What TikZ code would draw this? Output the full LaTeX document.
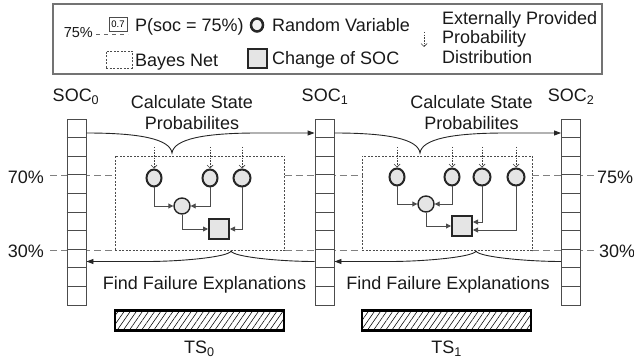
\documentclass[tikz,border=0pt]{standalone}
\usepackage{fontspec}
\setmainfont{Liberation Sans}
\usetikzlibrary{arrows.meta,shapes.geometric,patterns.meta,calc}
\begin{document}
\begin{tikzpicture}[x=1pt,y=-1pt,
  lbl/.style={inner sep=0pt, anchor=base, font=\fontsize{18}{21}\selectfont, text=black!90},
  lvl/.style={draw=black!50, line width=1pt, dash pattern=on 7pt off 4pt},
  bnbox/.style={draw=black!70, line width=0.8pt, dash pattern=on 2pt off 1.5pt},
  rv/.style={ellipse, draw=black!85, line width=2pt, fill=black!10, minimum width=15pt, minimum height=17pt, inner sep=0pt},
  rvm/.style={circle, draw=black!85, line width=1.4pt, fill=black!10, minimum size=16pt, inner sep=0pt},
  chg/.style={rectangle, draw=black!85, line width=2pt, fill=black!10, minimum size=19pt, inner sep=0pt},
  edge/.style={draw=black!70, line width=0.9pt, -{Triangle[length=5pt,width=5pt]}},
  ext/.style={draw=black!75, line width=0.7pt, dash pattern=on 1.5pt off 1.2pt, -{Straight Barb[length=3pt,width=6pt]}},
  flow/.style={draw=black!85, line width=0.9pt, -{Triangle[length=7pt,width=5pt]}},
  tsbar/.style={draw=black, line width=2.2pt, pattern={Lines[angle=55,distance=5pt,line width=0.55pt]}, minimum width=169pt, minimum height=20pt, inner sep=0pt},
  socbar/.style={draw=black!70, fill=white, line width=0.9pt, minimum width=19pt, minimum height=186pt, inner sep=0pt},
]
\useasboundingbox (0,0) rectangle (634,358);

% ---------- legend ----------
\node[draw=black!55, line width=1.2pt, minimum width=549pt, minimum height=70pt, inner sep=0pt] (legend) at (327.5,39) {};
\node[inner sep=0pt, anchor=base east, font=\fontsize{14.5}{16}\selectfont, text=black!90] (l75) at (93,38) {75\%};
\draw[draw=black!60, line width=0.8pt, dash pattern=on 4pt off 4pt] (96,34.5) -- (128,34.5);
\node[draw=black!70, fill=white, line width=0.8pt, minimum width=18pt, minimum height=14pt, inner sep=0pt, font=\fontsize{9.5}{10}\selectfont] (lcell) at (118,24) {0.7};
\node[lbl, anchor=base west] (lp) at (135,31.5) {P(soc = 75\%)};
\node[rv, fill=black!5, line width=2.5pt, minimum width=12pt, minimum height=13pt] (lrv) at (257,25) {};
\node[lbl, anchor=base west] (lrvt) at (272,31.5) {Random Variable};
\node[bnbox, minimum width=26pt, minimum height=17pt, inner sep=0pt] (lbn) at (119,59.5) {};
\node[lbl, anchor=base west] (lbnt) at (135,66.5) {Bayes Net};
\node[chg, line width=2.5pt] (lchg) at (257.5,58.5) {};
\node[lbl, anchor=base west] (lchgt) at (272,65) {Change of SOC};
\coordinate (lx1) at (424,32);
\coordinate (lx2) at (424,47);
\draw[ext] (lx1) -- (lx2);
\node[lbl, anchor=base west] (le1) at (442,24.5) {Externally Provided};
\node[lbl, anchor=base west] (le2) at (442,43.5) {Probability};
\node[lbl, anchor=base west] (le3) at (442,63.5) {Distribution};

% ---------- level lines ----------
\node[lbl, anchor=base east] (p70) at (44,183.5) {70\%};
\node[lbl, anchor=base east] (p30) at (44,257) {30\%};
\node[lbl, anchor=base west] (p75r) at (597,183) {75\%};
\node[lbl, anchor=base west] (p30r) at (599,257) {30\%};
\draw[lvl] (50,176) -- (115,176);
\draw[lvl] (284.5,176) -- (362,176);
\draw[lvl] (532,176) -- (596,176);
\draw[lvl] (50,250.5) -- (115,250.5);
\draw[lvl] (284.5,250.5) -- (362,250.5);
\draw[lvl] (532,250.5) -- (594,250.5);

% ---------- SOC bars ----------
\node[socbar] (soc0) at (76.5,212.5) {};
\node[socbar] (soc1) at (324.5,212.5) {};
\node[socbar] (soc2) at (571,212.5) {};
\foreach \b in {soc0,soc1,soc2}{
  \foreach \k in {1,...,9}{
    \draw[black!70, line width=0.9pt] ($(\b.north west)+(0,18.6*\k)$) -- ++(19,0);
  }
}
\node[lbl] (t0) at (76,101.5) {SOC\textsubscript{0}};
\node[lbl] (t1) at (325,101.5) {SOC\textsubscript{1}};
\node[lbl] (t2) at (571,101.5) {SOC\textsubscript{2}};

% ---------- Bayes net boxes ----------
\node[bnbox, minimum width=169.5pt, minimum height=94.5pt, inner sep=0pt] (bn1) at (199.75,203.25) {};
\node[bnbox, minimum width=170pt, minimum height=94.5pt, inner sep=0pt] (bn2) at (447,203.25) {};

% section 1 nodes
\node[rv] (A1) at (154,178) {};
\node[rv] (B1) at (210,178) {};
\node[rv, minimum width=17pt] (C1) at (242,178) {};
\node[rvm] (D1) at (182,206) {};
\node[chg, minimum size=20pt] (E1) at (219,229) {};
\draw[edge] (A1) |- (D1);
\draw[edge] (B1) |- (D1);
\draw[edge] (D1) |- (E1);
\draw[edge] (C1) |- (E1);
\coordinate (xa1) at (154,147);
\coordinate (xb1) at (210,147);
\coordinate (xc1) at (242,147);
\draw[ext] (xa1) -- (A1);
\draw[ext] (xb1) -- (B1);
\draw[ext] (xc1) -- (C1);

% section 2 nodes
\node[rv] (A2) at (397,177) {};
\node[rv] (B2) at (452,177) {};
\node[rv, minimum width=17pt] (C2) at (482,177) {};
\node[rv, minimum width=17pt] (F2) at (516,177) {};
\node[rvm] (D2) at (426,204) {};
\node[chg, minimum size=20pt] (E2) at (462,226) {};
\draw[edge] (A2) |- (D2);
\draw[edge] (B2) |- (D2);
\draw[edge] (D2) |- (E2);
\draw[edge] (C2) |- ([yshift=4pt]E2.east);
\draw[edge] (F2) |- ([yshift=-4pt]E2.east);
\coordinate (xa2) at (397,147);
\coordinate (xb2) at (452,147);
\coordinate (xc2) at (482,147);
\coordinate (xf2) at (516,147);
\draw[ext] (xa2) -- (A2);
\draw[ext] (xb2) -- (B2);
\draw[ext] (xc2) -- (C2);
\draw[ext] (xf2) -- (F2);

% ---------- flow arrows ----------
\coordinate (cu1) at (172,153);
\coordinate (cb1) at (231,251);
\coordinate (cu2) at (420,153);
\coordinate (cb2) at (476,251);
\draw[flow] (soc0.east |- 0,133) .. controls (140,133) and (170,139) .. (cu1)
  .. controls (174,139) and (204,133) .. (258,133) -- (soc1.west |- 0,133);
\draw[flow] (soc1.west |- 0,261.5) .. controls (281,261.5) and (233,257) .. (cb1)
  .. controls (229,257) and (181,261.5) .. (147,261.5) -- (soc0.east |- 0,261.5);
\draw[flow] (soc1.east |- 0,133) .. controls (388,133) and (418,139) .. (cu2)
  .. controls (422,139) and (452,133) .. (506,133) -- (soc2.west |- 0,133);
\draw[flow] (soc2.west |- 0,261.5) .. controls (528,261.5) and (478,257) .. (cb2)
  .. controls (474,257) and (424,261.5) .. (390,261.5) -- (soc1.east |- 0,261.5);

\node[lbl] (cs1a) at (192,108.5) {Calculate State};
\node[lbl] (cs1b) at (192,129.5) {Probabilites};
\node[lbl] (cs2a) at (471.5,108.5) {Calculate State};
\node[lbl] (cs2b) at (471.5,129.5) {Probabilites};
\node[lbl] (ff1) at (204.5,289.5) {Find Failure Explanations};
\node[lbl] (ff2) at (448,289.5) {Find Failure Explanations};

% ---------- time steps ----------
\node[tsbar] (ts0) at (199.5,320.5) {};
\node[tsbar] (ts1) at (446.5,320.5) {};
\node[lbl] (ts0t) at (199.5,353.5) {TS\textsubscript{0}};
\node[lbl] (ts1t) at (446.5,353.5) {TS\textsubscript{1}};
\end{tikzpicture}
\end{document}
